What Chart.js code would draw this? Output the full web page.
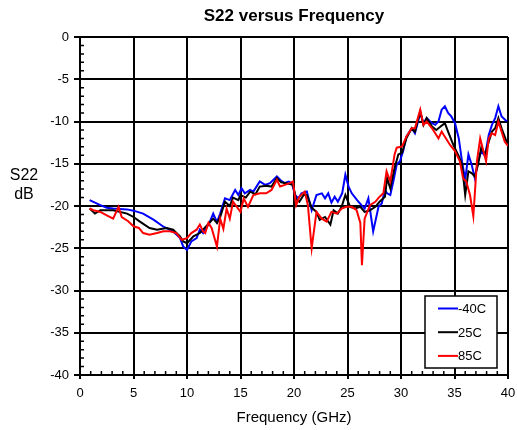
<!DOCTYPE html>
<html>
<head>
<meta charset="utf-8">
<script src="https://cdn.jsdelivr.net/npm/chart.js@4.4.1/dist/chart.umd.min.js"></script>
<style>
  body { margin: 0; background: #fff; }
  #wrap { width: 517px; height: 430px; }
</style>
</head>
<body>
<div id="wrap"><canvas id="s22Chart" width="517" height="430"></canvas></div>
<script>
// S22 versus Frequency - three temperatures

const seriesLabels = ['-40C', '25C', '85C'];
const seriesColors = ['#0000ff', '#000000', '#ff0000'];

const freqCold = [0.9, 1.9, 2.5, 3.1, 3.7, 4.4, 5.0, 5.9, 6.9, 7.8, 8.7, 9.35, 9.65, 10.0, 10.4, 10.9, 11.2, 11.5, 11.8, 12.1,
  12.45, 12.8, 13.1, 13.55, 14.0, 14.5, 14.8, 15.1, 15.4, 15.9, 16.2, 16.8, 17.3, 17.75, 18.4, 18.7, 19.1, 19.5, 19.8, 20.1,
  20.4, 20.7, 21.2, 21.65, 22.1, 22.6, 22.9, 23.2, 23.5, 23.8, 24.1, 24.5, 24.8, 25.1, 25.4, 25.9, 26.3, 26.6, 26.95, 27.4,
  27.9, 28.2, 28.5, 28.7, 29.0, 29.3, 29.6, 29.9, 30.2, 30.5, 31.0, 31.3, 31.8, 32.1, 32.4, 32.9, 33.2, 33.5, 33.8, 34.1,
  34.4, 34.7, 35.05, 35.4, 35.7, 36.0, 36.3, 36.6, 36.9, 37.2, 37.5, 37.85, 38.2, 38.5, 38.8, 39.1, 39.4, 39.9];
const s22Cold = [-19.3, -19.9, -20.2, -20.3, -20.35, -20.4, -20.55, -20.9, -21.65, -22.45, -23.0, -23.8, -24.8, -25.2, -24.2, -23.8, -22.8, -23.2, -22.6, -22.0,
  -20.9, -21.9, -20.9, -19.1, -19.3, -18.1, -18.7, -17.9, -18.5, -18.1, -18.3, -17.1, -17.5, -17.3, -16.5, -16.9, -17.3, -17.1, -17.3, -18.7,
  -19.1, -18.5, -18.3, -20.5, -18.7, -18.5, -19.1, -18.5, -19.6, -18.9, -19.5, -18.5, -16.3, -17.7, -18.5, -19.3, -19.9, -20.3, -19.1, -23.0,
  -20.1, -19.7, -18.1, -18.5, -18.7, -17.0, -15.1, -14.7, -13.5, -11.8, -10.8, -11.4, -9.0, -10.2, -9.6, -10.2, -10.4, -10.0, -8.6, -8.2,
  -9.0, -9.4, -10.2, -12.0, -14.7, -16.9, -13.9, -15.1, -16.7, -14.7, -13.5, -14.1, -11.6, -10.4, -9.6, -8.2, -9.4, -10.0];

const freqRoom = [0.9, 1.4, 1.9, 3.1, 4.4, 5.0, 5.6, 6.5, 7.2, 8.1, 8.7, 9.35, 9.65, 10.0, 10.6, 11.2, 11.8, 12.45, 12.8, 13.1,
  13.55, 14.0, 14.3, 14.8, 15.0, 15.5, 15.9, 16.4, 16.8, 17.4, 17.9, 18.4, 18.8, 19.3, 19.9, 20.2, 20.5, 20.9, 21.2, 21.65,
  22.1, 22.4, 22.9, 23.4, 23.7, 24.1, 24.45, 24.8, 25.25, 25.7, 26.2, 26.6, 27.1, 27.6, 28.0, 28.5, 28.7, 29.0, 29.4, 29.75,
  30.1, 30.5, 31.0, 31.3, 31.8, 32.1, 32.4, 32.9, 33.3, 33.7, 34.1, 34.4, 34.9, 35.4, 35.7, 36.0, 36.3, 36.6, 36.9, 37.2,
  37.5, 37.85, 38.2, 38.5, 38.8, 39.1, 39.4, 39.9];
const s22Room = [-20.3, -20.9, -20.5, -20.5, -20.9, -21.3, -21.85, -22.6, -22.8, -22.6, -22.8, -23.6, -24.2, -24.4, -23.6, -23.2, -22.4, -21.5, -22.0, -21.3,
  -19.5, -20.0, -19.0, -19.3, -18.7, -19.0, -18.3, -18.6, -17.7, -17.6, -17.7, -16.7, -17.2, -17.3, -17.5, -19.2, -19.5, -18.7, -18.7, -20.2,
  -20.7, -21.65, -21.3, -22.2, -20.5, -20.9, -20.1, -18.7, -20.1, -20.3, -20.1, -20.7, -20.5, -20.1, -19.5, -18.9, -16.7, -17.9, -15.5, -13.9,
  -13.7, -12.0, -10.8, -11.2, -8.8, -10.4, -9.6, -10.6, -11.0, -10.6, -10.2, -11.2, -12.8, -14.1, -15.1, -18.7, -15.9, -16.1, -16.5, -15.1,
  -13.1, -13.9, -12.4, -11.2, -10.8, -9.6, -10.8, -12.5];

const freqHot = [0.9, 1.25, 1.9, 2.5, 3.1, 3.6, 3.9, 4.5, 5.0, 5.5, 5.9, 6.5, 7.2, 7.8, 8.4, 9.0, 9.5, 10.0, 10.4, 10.9,
  11.2, 11.5, 11.7, 12.0, 12.3, 12.8, 13.1, 13.4, 13.7, 14.0, 14.3, 15.0, 15.3, 15.7, 16.2, 16.8, 17.4, 17.9, 18.4, 18.7,
  19.15, 19.6, 19.9, 20.2, 20.5, 21.0, 21.3, 21.65, 22.1, 22.6, 23.05, 23.5, 24.0, 24.45, 24.9, 25.4, 25.85, 26.2, 26.35, 26.6,
  27.1, 27.6, 28.0, 28.35, 28.65, 29.0, 29.4, 29.6, 30.1, 30.5, 31.0, 31.3, 31.8, 32.1, 32.4, 32.9, 33.2, 33.5, 33.8, 34.1,
  34.6, 35.05, 35.5, 35.8, 36.1, 36.45, 36.76, 37.1, 37.4, 37.7, 37.95, 38.2, 38.5, 38.8, 39.1, 39.4, 39.7, 40.0];
const s22Hot = [-20.3, -20.5, -20.7, -21.1, -21.5, -20.1, -21.3, -21.8, -22.4, -22.6, -23.2, -23.4, -23.2, -23.0, -23.0, -23.2, -24.0, -23.8, -23.2, -22.8,
  -22.2, -23.0, -23.2, -22.0, -22.6, -24.8, -21.5, -22.7, -20.3, -21.5, -19.5, -20.7, -19.1, -20.1, -18.7, -18.5, -18.5, -18.1, -16.9, -17.7,
  -17.5, -17.3, -17.1, -19.9, -18.9, -18.3, -19.9, -25.0, -20.7, -21.5, -21.85, -20.7, -20.9, -20.3, -20.1, -20.1, -20.5, -22.0, -27.0, -21.5,
  -19.9, -19.5, -18.9, -18.5, -15.9, -17.1, -13.9, -13.1, -12.95, -11.8, -10.8, -10.8, -8.6, -10.4, -10.0, -10.8, -11.4, -12.0, -11.2, -11.8,
  -12.8, -13.5, -14.7, -16.7, -17.1, -18.7, -21.2, -14.7, -12.0, -13.5, -14.7, -12.0, -11.4, -11.6, -10.0, -11.2, -12.4, -12.9];

const seriesFreqs = [freqCold, freqRoom, freqHot];
const seriesValues = [s22Cold, s22Room, s22Hot];

const FONT = '"Liberation Sans", Arial, sans-serif';

const datasets = seriesLabels.map((label, i) => ({
    label: label,
    data: seriesFreqs[i].map((f, j) => ({ x: f, y: seriesValues[i][j] })),
    borderColor: seriesColors[i],
    backgroundColor: seriesColors[i],
    borderWidth: 2,
    pointRadius: 0,
    showLine: true,
    fill: false,
    tension: 0,
    order: 2 - i
}));

// minor ticks, the horizontal "S22 dB" axis label and the boxed legend
const extras = {
    id: 'extras',
    afterDraw(chart) {
        const ctx = chart.ctx;
        const xs = chart.scales.x, ys = chart.scales.y;
        const area = chart.chartArea;
        ctx.save();
        ctx.strokeStyle = '#000';
        ctx.lineWidth = 1.5;
        ctx.beginPath();
        for (let f = 1; f < 40; f++) {
            if (f % 5 === 0) continue;
            const px = xs.getPixelForValue(f);
            ctx.moveTo(px, area.bottom);
            ctx.lineTo(px, area.bottom - 4);
        }
        for (let v = -39; v < 0; v++) {
            if (v % 5 === 0) continue;
            const py = ys.getPixelForValue(v);
            ctx.moveTo(area.left, py);
            ctx.lineTo(area.left + 4, py);
        }
        ctx.stroke();

        ctx.fillStyle = '#000';
        ctx.font = '16px ' + FONT;
        ctx.textAlign = 'center';
        ctx.textBaseline = 'middle';
        ctx.fillText('S22', 24, 176);
        ctx.fillText('dB', 24, 195);

        // legend
        const bx = 425, by = 296, bw = 72, bh = 72;
        ctx.fillStyle = '#fff';
        ctx.fillRect(bx, by, bw, bh);
        ctx.strokeStyle = '#000';
        ctx.lineWidth = 1.5;
        ctx.strokeRect(bx, by, bw, bh);
        ctx.font = '13px ' + FONT;
        ctx.textAlign = 'left';
        seriesLabels.forEach((label, i) => {
            const y = 308.5 + i * 23.7;
            ctx.strokeStyle = seriesColors[i];
            ctx.lineWidth = 2;
            ctx.beginPath();
            ctx.moveTo(438, y);
            ctx.lineTo(458, y);
            ctx.stroke();
            ctx.fillStyle = '#000';
            ctx.fillText(label, 458, y + 1);
        });
        ctx.restore();
    }
};

new Chart(document.getElementById('s22Chart'), {
    type: 'scatter',
    data: { datasets: datasets },
    plugins: [extras],
    options: {
        responsive: false,
        animation: false,
        layout: { padding: { left: 0, right: 9, top: 0, bottom: 0 } },
        plugins: {
            legend: { display: false },
            tooltip: { enabled: false },
            title: {
                display: true,
                text: 'S22 versus Frequency',
                fullSize: false,
                color: '#000',
                font: { family: FONT, size: 17, weight: 'bold' },
                padding: { top: 6, bottom: 10.6 }
            }
        },
        scales: {
            x: {
                type: 'linear',
                min: 0,
                max: 40,
                afterFit(scale) {
                    scale.height = 55;
                    scale.paddingLeft = 0;
                    scale.paddingRight = 0;
                },
                ticks: {
                    stepSize: 5,
                    color: '#000',
                    padding: 7,
                    maxRotation: 0,
                    font: { family: FONT, size: 13 }
                },
                grid: { color: '#000', lineWidth: 2, tickLength: 4 },
                border: { color: '#000', width: 2 },
                title: {
                    display: true,
                    text: 'Frequency (GHz)',
                    color: '#000',
                    font: { family: FONT, size: 15 },
                    padding: { top: 0, bottom: 3 }
                }
            },
            y: {
                type: 'linear',
                min: -40,
                max: 0,
                afterFit(scale) { scale.width = 80; },
                ticks: {
                    stepSize: 5,
                    color: '#000',
                    padding: 5,
                    font: { family: FONT, size: 13 }
                },
                grid: { color: '#000', lineWidth: 2, tickLength: 6 },
                border: { color: '#000', width: 2 }
            }
        }
    }
});
</script>
</body>
</html>
